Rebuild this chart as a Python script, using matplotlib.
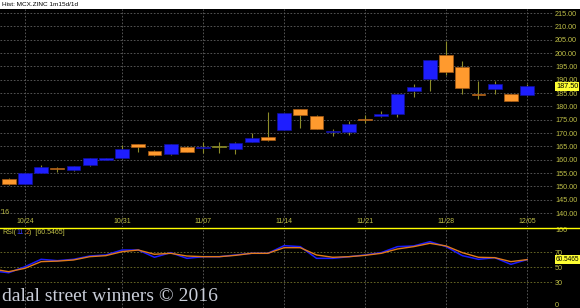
import numpy as np
import matplotlib.pyplot as plt
from matplotlib.lines import Line2D
from matplotlib.patches import Rectangle

# trading days shown (10/30 was the Diwali muhurat session)
dates = ['10/21', '10/24', '10/25', '10/26', '10/27', '10/28', '10/30',
         '10/31', '11/01', '11/02', '11/03', '11/04',
         '11/07', '11/08', '11/09', '11/10', '11/11',
         '11/14', '11/15', '11/16', '11/17', '11/18',
         '11/21', '11/22', '11/23', '11/24', '11/25',
         '11/28', '11/29', '11/30', '12/01', '12/02', '12/05']
opens = [152.75, 150.9, 154.9, 157.0, 156.25, 158.0, 160.0, 160.5, 165.9, 163.1, 162.0,
         164.9, 164.4, 164.75, 164.0, 166.6, 168.5, 171.1, 179.0, 176.4, 170.4, 170.5,
         175.15, 176.5, 177.0, 185.75, 190.1, 199.25, 194.75, 184.6, 186.4, 184.6, 184.1]
highs = [153.0, 155.0, 158.0, 157.4, 157.8, 160.5, 160.6, 165.5, 166.0, 163.75, 166.0,
         165.25, 166.6, 166.5, 166.6, 170.1, 178.0, 177.5, 179.0, 176.6, 171.5, 174.5,
         176.75, 178.1, 184.6, 188.4, 197.3, 204.6, 197.0, 189.5, 189.4, 184.8, 188.4]
lows = [150.5, 150.7, 154.9, 155.5, 155.6, 157.5, 159.9, 160.5, 163.0, 161.5, 161.75,
        162.9, 162.4, 162.4, 162.0, 166.6, 167.0, 171.0, 171.75, 171.4, 168.9, 169.25,
        173.6, 176.1, 175.9, 183.6, 185.9, 191.9, 184.6, 182.9, 184.6, 182.1, 184.1]
closes = [150.9, 154.9, 157.4, 156.4, 157.75, 160.5, 160.5, 164.0, 164.75, 161.9, 165.9,
          162.9, 164.9, 164.75, 166.1, 168.1, 167.5, 177.4, 176.75, 171.4, 170.9, 173.4,
          175.0, 177.25, 184.6, 187.1, 197.25, 192.75, 187.0, 184.4, 188.5, 182.1, 187.5]

# RSI(11,2): first value belongs to the day before the window
rsi = [45.5, 43.0, 51.0, 60.9, 59.1, 60.9, 65.3, 66.7, 73.3, 73.3, 63.6, 69.8,
       62.2, 64.4, 64.4, 66.7, 68.9, 68.9, 79.1, 77.8, 62.2, 62.2, 64.4, 66.7,
       69.8, 77.8, 78.7, 84.4, 77.8, 65.8, 60.9, 63.1, 54.2, 60.5465]
rsi_signal = [48.0, 44.4, 48.9, 57.8, 58.5, 60.0, 64.4, 65.8, 71.1, 73.3, 67.6, 68.9,
              65.3, 64.4, 64.4, 66.2, 68.9, 68.9, 76.4, 76.4, 66.7, 63.6, 64.4, 66.2,
              68.9, 74.7, 77.8, 82.2, 78.7, 69.8, 63.6, 63.1, 57.8, 60.5]

tick_dates = ['10/24', '10/31', '11/07', '11/14', '11/21', '11/28', '12/05']
price_ticks = np.arange(140, 216, 5)
rsi_ticks = [0, 30, 50, 70, 100]
last_price = 187.50
last_rsi = 60.5465

W, H = 580, 308
UP, DOWN = '#1e1eff', '#ff9a2e'
WICK = '#8c8c28'
LBL = '#c0c048'
GRID = '#606060'

fig = plt.figure(figsize=(W / 100, H / 100), dpi=100, facecolor='black')
plt.rcParams['font.family'] = ['Liberation Sans', 'DejaVu Sans']

# white header strip
fig.patches.append(Rectangle((0, 1 - 9 / H), 1, 9 / H, transform=fig.transFigure,
                             facecolor='white', edgecolor='none'))
fig.text(2 / W, 1 - 4.5 / H, 'Hist: MCX.ZINC 1m15d/1d', fontsize=4.6, color='black',
         va='center', ha='left')

x = np.arange(len(dates))
xl = (-8.7 / 16.2, (553 - 8.7) / 16.2)
tick_idx = [dates.index(d) for d in tick_dates]

# price panel
ax = fig.add_axes([0, (H - 227) / H, 553 / W, 218 / H])
ax.set_facecolor('black')
ax.set_xlim(xl)
ax.set_ylim(134.75, 216.5)
for s in ax.spines.values():
    s.set_visible(False)
for p in price_ticks:
    ax.axhline(p, color=GRID, lw=0.6, ls=(0, (2, 2)), zorder=0)
for i in tick_idx:
    ax.axvline(i, color=GRID, lw=0.6, ls=(0, (2, 2)), zorder=0)

o = np.array(opens); c = np.array(closes)
ax.vlines(x, lows, highs, color=WICK, lw=0.8, zorder=1)
bottoms = np.minimum(o, c)
heights = np.maximum(np.abs(c - o), 0.4)
fc = [UP if cc > oo else (DOWN if cc < oo else WICK) for oo, cc in zip(o, c)]
ec = [('#1010a0' if cc > oo else ('#a85a14' if cc < oo else WICK)) for oo, cc in zip(o, c)]
ax.bar(x, heights, bottom=bottoms, width=0.86, color=fc, edgecolor=ec, lw=0.5, zorder=2)

ax.yaxis.tick_right()
ax.set_yticks(price_ticks)
ax.set_yticklabels(['%.2f' % p for p in price_ticks])
ax.tick_params(axis='y', length=0, pad=1.5, labelsize=5.2, labelcolor=LBL)
ax.set_xticks([])
for i, d in zip(tick_idx, tick_dates):
    ax.text(i, 0.0275, d, transform=ax.get_xaxis_transform(), fontsize=5, color=LBL,
            ha='center', va='center')
ax.text(-0.52, 0.066, "'16", transform=ax.get_xaxis_transform(), fontsize=5,
        color=LBL, ha='left', va='center')
ax.text(556 / 553, last_price, '%.2f' % last_price, transform=ax.get_yaxis_transform(),
        fontsize=5.2, color='black', ha='left', va='center', clip_on=False,
        bbox=dict(boxstyle='square,pad=0.15', facecolor='#ffff33', edgecolor='none'))

# yellow separator
fig.lines.append(Line2D([0, 1], [1 - 228 / H] * 2, transform=fig.transFigure,
                        color='#ffff00', lw=1.0))

# RSI panel
ar = fig.add_axes([0, 0, 553 / W, (H - 229) / H])
ar.set_facecolor('black')
ar.set_xlim(xl)
ar.set_ylim(-4, 101.3)
for s in ar.spines.values():
    s.set_visible(False)
for i in tick_idx:
    ar.axvline(i, color=GRID, lw=0.6, ls=(0, (2, 2)), zorder=0)
for lv in [30, 50, 70]:
    ar.axhline(lv, color='#74742a', lw=0.6, ls=(0, (2, 2)), zorder=0)
xr = np.arange(-1, len(dates))
ar.plot(xr, rsi, color='#1a1aff', lw=1.1)
ar.plot(xr, rsi_signal, color='#e07a1a', lw=1.0)
ar.yaxis.tick_right()
ar.set_yticks(rsi_ticks)
ar.tick_params(axis='y', length=0, pad=1.5, labelsize=5.2, labelcolor=LBL)
ar.set_xticks([])
ar.text(555.5 / 553, last_rsi, '%.4f' % last_rsi, transform=ar.get_yaxis_transform(),
        fontsize=4.7, color='black', ha='left', va='center', clip_on=False,
        bbox=dict(boxstyle='square,pad=0.15', facecolor='#ffff33', edgecolor='none'))

# RSI legend with coloured parameters
parts = [('RSI(', LBL), ('11', '#3a3aff'), (',', LBL), ('2', '#e07a1a'),
         (')  [%.4f]' % last_rsi, LBL)]
t = ar.text(2 / 553, 0.955, parts[0][0], transform=ar.transAxes, fontsize=5,
            color=parts[0][1], ha='left', va='center')
for s, col in parts[1:]:
    t = ar.annotate(s, xy=(1, 0.5), xycoords=t, fontsize=5, color=col,
                    ha='left', va='center')

fig.text(2 / W, 1 - 301 / H, 'dalal street winners \u00a9 2016', family='Liberation Serif',
         fontsize=14, color='#c9cdd8', ha='left', va='baseline')

fig.savefig('out.png', dpi=100, facecolor='black')
